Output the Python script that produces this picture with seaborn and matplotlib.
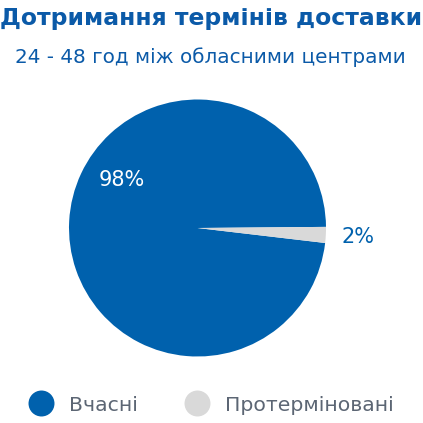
import matplotlib
matplotlib.use("Agg")
import matplotlib.pyplot as plt
from matplotlib.lines import Line2D
import seaborn as sns

categories = ["Вчасні", "Протерміновані"]
values = [98, 2]
pct_labels = ["98%", "2%"]
title = "Дотримання термінів доставки"
subtitle = "24 - 48 год між обласними центрами"

sns.set_theme(style="white")
plt.rcParams['font.family'] = ['DejaVu Sans']

colors = ["#0061ad", "#d9d9d9"]
title_color = "#0b5aa8"
legend_text_color = "#5c6674"

W = H = 423
fig = plt.figure(figsize=(4.23, 4.23), dpi=100)
cx, cy, r = 197.5, 228.0, 128.5
ax = fig.add_axes([(cx - r) / W, (H - cy - r) / H, 2 * r / W, 2 * r / H])

wedges, texts, autotexts = ax.pie(
    values, colors=colors, startangle=0.5, counterclock=True,
    autopct=lambda p: "", pctdistance=1.25, radius=1.0,
    wedgeprops=dict(linewidth=0))
ax.set_xlim(-1, 1)
ax.set_ylim(-1, 1)
ax.set_aspect("equal")
ax.axis("off")

# percentage labels
autotexts[1].set_text(pct_labels[1])
autotexts[1].set_color(colors[0])
autotexts[1].set_fontsize(15)
autotexts[0].set_text("")
ax.text(-0.59, 0.37, pct_labels[0], color="white", fontsize=15,
        ha="center", va="center")

fig.text(211 / W, 1 - 18 / H, title, ha="center", va="center",
         fontsize=16.9, fontweight="bold", color=title_color)
fig.text(210 / W, 1 - 57 / H, subtitle, ha="center", va="center",
         fontsize=14.4, color=title_color)

handles = [Line2D([0], [0], marker="o", linestyle="", markersize=18.7,
                  markerfacecolor=c, markeredgewidth=0) for c in colors]
leg = fig.legend(handles, categories, loc="center", bbox_to_anchor=(210 / W, 1 - 405 / H),
                 ncol=2, frameon=False, fontsize=14.7, handlelength=1.4,
                 handletextpad=0.67, columnspacing=2.2, labelcolor=legend_text_color,
                 borderpad=0, borderaxespad=0)

fig.savefig("out.png", dpi=100, facecolor="white")
